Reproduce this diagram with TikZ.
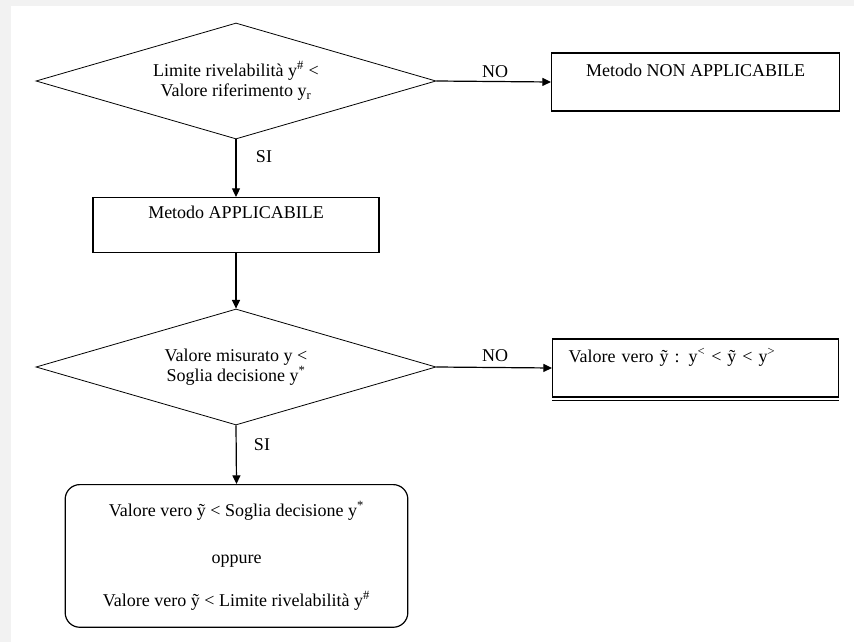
\documentclass[tikz,border=0pt]{standalone}
\usepackage{fontspec}
\setmainfont{Liberation Serif}
\usetikzlibrary{shapes.geometric,arrows.meta}
\begin{document}
\begin{tikzpicture}[x=0.75pt,y=-0.75pt,
  every node/.style={font=\fontsize{13.5}{15}\selectfont},
  decision/.style={diamond,draw,line width=0.6pt,inner sep=0pt,shape aspect=3.45,
    minimum width=300pt,minimum height=87pt,align=center},
  box/.style={rectangle,draw,line width=0.9pt,inner sep=0pt,
    minimum width=216pt,text depth=25.9pt},
  roundbox/.style={rectangle,draw,line width=0.9pt,rounded corners=11pt,
    minimum width=257pt,minimum height=107pt,align=center},
  arr/.style={-{Triangle[length=6.5pt,width=6pt]},line width=0.9pt},
  lbl/.style={inner sep=0pt}]
  % page
  \fill[gray!10] (0,0) rectangle (854,642);
  \fill[white] (11,6) rectangle (854,642);
  \useasboundingbox (0,0) rectangle (854,642);

  % first test
  \node[decision] (d1) at (236,81) {Limite rivelabilità y\textsuperscript{\#} <\\Valore riferimento y\textsubscript{r}};
  \node[box,text height=17.6pt,anchor=west] (non) at (551,82) {Metodo NON APPLICABILE};
  \node[box,minimum width=214.5pt,text height=15.4pt,anchor=north] (app) at (236,197) {Metodo APPLICABILE};

  % second test
  \node[decision] (d2) at (236,367) {Valore misurato y <\\Soglia decisione y\textsuperscript{*}};
  \node[box,minimum width=214.5pt,text height=17.6pt,text width=190.5pt,
        inner xsep=12pt,align=left,anchor=west] (vv) at (552,368)
        {Valore vero ỹ : y\textsuperscript{<} < ỹ < y\textsuperscript{>}};
  \draw[line width=0.9pt] ([yshift=-2.2pt]vv.south west) -- ([yshift=-2.2pt]vv.south east);

  \node[roundbox,anchor=north] (fin) at (236.5,484)
    {Valore vero ỹ < Soglia decisione y\textsuperscript{*}\\[20pt]oppure\\[17pt]Valore vero ỹ < Limite rivelabilità y\textsuperscript{\#}};

  % connectors
  \draw[arr] (d1.east) -- (non.west);
  \draw[arr] (d1.south) -- (app.north);
  \draw[arr] (app.south) -- (d2.north);
  \draw[arr] (d2.east) -- (vv.west);
  \draw[arr] (d2.south) -- (fin.north);

  % branch labels
  \node[lbl] (no1) at (495,72) {NO};
  \node[lbl] (si1) at (264,157) {SI};
  \node[lbl] (no2) at (495,356) {NO};
  \node[lbl] (si2) at (262,445) {SI};
\end{tikzpicture}
\end{document}
